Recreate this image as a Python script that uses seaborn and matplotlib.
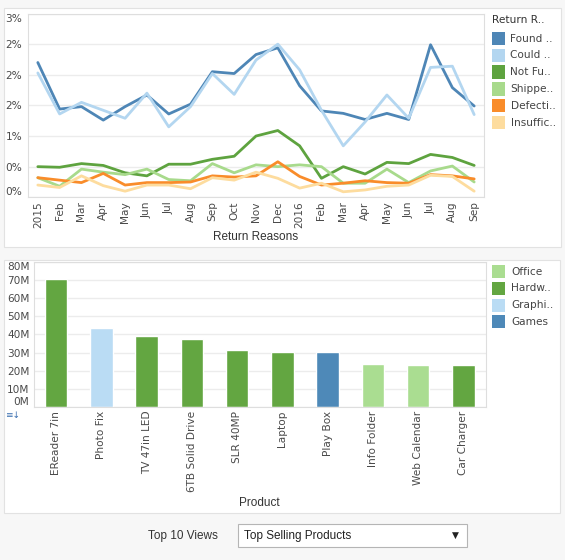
import numpy as np
import pandas as pd
import matplotlib
matplotlib.use("Agg")
import matplotlib.pyplot as plt
from matplotlib.patches import Rectangle
import seaborn as sns

# ---------------- data ----------------
months = ['2015', 'Feb', 'Mar', 'Apr', 'May', 'Jun', 'Jul', 'Aug', 'Sep', 'Oct', 'Nov',
          'Dec', '2016', 'Feb', 'Mar', 'Apr', 'May', 'Jun', 'Jul', 'Aug', 'Sep']
reasons = ['Found ..', 'Could ..', 'Not Fu..', 'Shippe..', 'Defecti..', 'Insuffic..']
found = [2.20, 1.44, 1.48, 1.26, 1.48, 1.67, 1.36, 1.52, 2.05, 2.02, 2.33,
         2.44, 1.82, 1.41, 1.37, 1.27, 1.37, 1.27, 2.49, 1.79, 1.49]
could = [2.03, 1.36, 1.55, 1.42, 1.29, 1.70, 1.15, 1.48, 2.02, 1.68, 2.24,
         2.50, 2.08, 1.42, 0.84, 1.23, 1.67, 1.29, 2.12, 2.14, 1.35]
not_fu = [0.50, 0.49, 0.55, 0.52, 0.40, 0.35, 0.54, 0.54, 0.62, 0.67, 1.00,
          1.09, 0.84, 0.31, 0.50, 0.38, 0.57, 0.55, 0.70, 0.65, 0.52]
shipped = [0.32, 0.18, 0.46, 0.41, 0.37, 0.46, 0.29, 0.27, 0.55, 0.40, 0.53,
           0.50, 0.53, 0.50, 0.23, 0.23, 0.46, 0.24, 0.43, 0.51, 0.25]
defective = [0.32, 0.28, 0.24, 0.39, 0.20, 0.24, 0.24, 0.25, 0.35, 0.33, 0.35,
             0.58, 0.34, 0.20, 0.23, 0.27, 0.24, 0.23, 0.37, 0.35, 0.30]
insufficient = [0.20, 0.16, 0.35, 0.19, 0.10, 0.20, 0.20, 0.14, 0.32, 0.28, 0.41,
                0.31, 0.15, 0.23, 0.09, 0.12, 0.18, 0.20, 0.36, 0.34, 0.10]
reason_colors = ['#4e86b6', '#b3d6f0', '#5ea33f', '#a8da8c', '#f98c2a', '#fddc9e']

y_ticks_top = [0.0, 0.5, 1.0, 1.5, 2.0, 2.5, 3.0]
y_ticklabels_top = ['0%', '0%', '1%', '2%', '2%', '2%', '3%']

products = ['EReader 7in', 'Photo Fix', 'TV 47in LED', '6TB Solid Drive', 'SLR 40MP',
            'Laptop', 'Play Box', 'Info Folder', 'Web Calendar', 'Car Charger']
sales_m = [70.9, 43.6, 38.9, 37.6, 31.3, 30.2, 30.2, 23.6, 23.0, 23.0]
product_cat = ['Hardw..', 'Graphi..', 'Hardw..', 'Hardw..', 'Hardw..',
               'Hardw..', 'Games', 'Office', 'Office', 'Hardw..']
categories = ['Office', 'Hardw..', 'Graphi..', 'Games']
cat_colors = ['#aadd91', '#63a641', '#badcf4', '#4e89b8']
y_ticks_bot = [0, 10, 20, 30, 40, 50, 60, 70, 80]
y_ticklabels_bot = ['0M', '10M', '20M', '30M', '40M', '50M', '60M', '70M', '80M']

# ---------------- layout helpers ----------------
W, H = 565, 560
sns.set_theme(style="white")
plt.rcParams['font.family'] = ['DejaVu Sans']

fig = plt.figure(figsize=(W / 100, H / 100), dpi=100)
fig.patch.set_facecolor('#f7f7f7')


def box(x0, y0, x1, y1):
    return [x0 / W, 1 - y1 / H, (x1 - x0) / W, (y1 - y0) / H]


def fx(x):
    return x / W


def fy(y):
    return 1 - y / H


def panel(x0, y0, x1, y1, fc='white', ec='#e2e2e2', z=-5):
    fig.add_artist(Rectangle((fx(x0), fy(y1)), (x1 - x0) / W, (y1 - y0) / H,
                             transform=fig.transFigure, facecolor=fc,
                             edgecolor=ec, linewidth=0.8, zorder=z))


panel(4, 8, 561, 247)
panel(4, 259.5, 560, 513)

TICK_C = '#4a4a4a'
GRID_C = '#ececec'
SPINE_C = '#dedede'

# ---------------- top: line chart ----------------
ax1 = fig.add_axes(box(28, 13.5, 484, 197.3))
series = [found, could, not_fu, shipped, defective, insufficient]
rows = []
for r, vals in zip(reasons, series):
    for i, v in enumerate(vals):
        rows.append({'idx': i, 'value': v, 'reason': r})
df_lines = pd.DataFrame(rows)
sns.lineplot(data=df_lines, x='idx', y='value', hue='reason', hue_order=reasons,
             palette=reason_colors, linewidth=2.0, legend=False, ax=ax1)
ax1.set_xlim(-0.45, len(months) - 1 + 0.45)
ax1.set_ylim(0, 3.0)
ax1.set_yticks(y_ticks_top)
ax1.set_yticklabels(y_ticklabels_top)
ax1.set_xticks(range(len(months)))
ax1.set_xticklabels(months, rotation=90)
ax1.grid(axis='y', color=GRID_C, linewidth=1)
ax1.set_axisbelow(True)
ax1.tick_params(axis='both', length=0, labelsize=7.6, labelcolor=TICK_C)
ax1.tick_params(axis='x', pad=3)
ax1.tick_params(axis='y', pad=4)
ylabs = ax1.get_yticklabels()
ylabs[0].set_va('bottom')
ylabs[-1].set_va('top')
for s in ax1.spines.values():
    s.set_color(SPINE_C)
    s.set_linewidth(0.8)
ax1.set_ylabel('')
ax1.set_xlabel('Return Reasons', fontsize=8.5, color='#333333',
               family=['Liberation Sans', 'DejaVu Sans'])
ax1.xaxis.set_label_coords(0.5, (197.3 - 237) / (197.3 - 13.5))
ax1.xaxis.label.set_va('center')

# ---------------- bottom: bar chart ----------------
ax2 = fig.add_axes(box(33.5, 262.3, 486, 406.7))
df_bars = pd.DataFrame({'product': products, 'sales': sales_m, 'category': product_cat})
sns.barplot(data=df_bars, x='product', y='sales', hue='category', hue_order=categories,
            palette=cat_colors, dodge=False, width=0.5, legend=False,
            saturation=1, ax=ax2)
ax2.set_xlim(-0.5, len(products) - 0.5)
ax2.set_ylim(0, 80)
ax2.set_yticks(y_ticks_bot)
ax2.set_yticklabels(y_ticklabels_bot)
ax2.set_xticks(range(len(products)))
ax2.set_xticklabels(products, rotation=90)
ax2.grid(axis='y', color=GRID_C, linewidth=1)
ax2.set_axisbelow(True)
ax2.tick_params(axis='both', length=0, labelsize=7.6, labelcolor=TICK_C)
ax2.tick_params(axis='x', pad=3)
ax2.tick_params(axis='y', pad=3)
ylabs2 = ax2.get_yticklabels()
ylabs2[0].set_va('bottom')
ylabs2[-1].set_va('top')
for s in ax2.spines.values():
    s.set_color(SPINE_C)
    s.set_linewidth(0.8)
ax2.set_ylabel('')
ax2.set_xlabel('Product', fontsize=8.5, color='#333333',
               family=['Liberation Sans', 'DejaVu Sans'])
ax2.xaxis.set_label_coords(0.5, (406.7 - 503) / (406.7 - 262.3))
ax2.xaxis.label.set_va('center')

# sort icon
fig.text(fx(5), fy(415), '≡↓', fontsize=6.5, color='#3b6fb0', va='center', ha='left')


# ---------------- legends ----------------
def legend_block(title, labels, colors, x, ytitle, y0, dy, tx):
    if title:
        fig.text(fx(x), fy(ytitle), title, fontsize=7.6, color='#333333',
                 va='center', ha='left')
    for i, (lab, col) in enumerate(zip(labels, colors)):
        yc = y0 + i * dy
        fig.add_artist(Rectangle((fx(x), fy(yc + 6.6)), 13.2 / W, 13.2 / H,
                                 transform=fig.transFigure, facecolor=col,
                                 edgecolor='none'))
        fig.text(fx(tx), fy(yc), lab, fontsize=7.6, color='#444444',
                 va='center', ha='left')


legend_block('Return R..', reasons, reason_colors, 491.5, 20, 38.5, 16.8, 510.5)
legend_block(None, categories, cat_colors, 492, 0, 271.7, 16.7, 511.5)

# ---------------- bottom controls ----------------
fig.text(fx(182.5), fy(536), 'Top 10 Views', fontsize=8.5, color='#333333',
         ha='center', va='center', family=['Liberation Sans', 'DejaVu Sans'])
panel(238.3, 524.3, 466.7, 546.7, fc='white', ec='#b5b5b5', z=1)
fig.text(fx(243.5), fy(536), 'Top Selling Products', fontsize=8.5, color='#222222',
         ha='left', va='center', family=['Liberation Sans', 'DejaVu Sans'])
fig.text(fx(455), fy(535), '▼', fontsize=6.5, color='#222222', ha='center', va='center')

fig.savefig('out.png', dpi=100, facecolor=fig.get_facecolor())
